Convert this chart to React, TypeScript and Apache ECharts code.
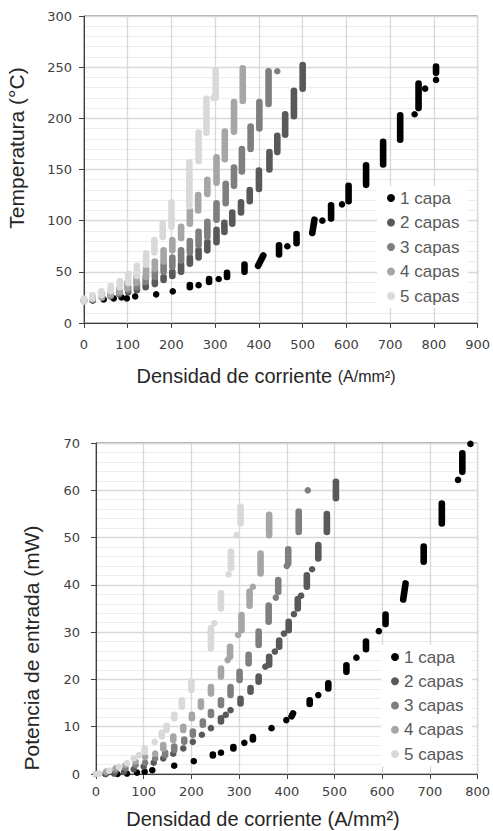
import React, { useEffect, useRef } from "react";
import * as echarts from "echarts";

// Series names and colours
const seriesNames = ["1 capa", "2 capas", "3 capas", "4 capas", "5 capas"];
const seriesColors = ["#000000", "#595959", "#7f7f7f", "#a6a6a6", "#d9d9d9"];

// Each cluster: [x, yLow, yHigh?, xAtHigh?]  (vertical streaks of measured points)
// ---- Top chart: Temperatura (°C) vs Densidad de corriente (A/mm²)
const temp1 = [
  [0, 22], [20, 22], [45, 23], [68, 24], [86, 25], [98, 24], [117, 26], [165, 28], [203, 31],
  [242, 35, 37], [262, 37], [286, 40, 43], [308, 43], [327, 45, 49], [367, 50, 57],
  [398, 56, 66, 410], [446, 67, 76], [465, 75], [486, 78, 87], [522, 88, 101, 527], [545, 100],
  [565, 102, 115], [590, 116], [605, 119, 134], [645, 135, 154], [684, 155, 177],
  [723, 179, 203], [756, 204], [765, 210, 234], [780, 229], [805, 237.5], [805, 244.5, 250.5],
];
const temp2 = [
  [0, 22], [20, 23], [41, 25], [61, 26], [81, 28], [101, 30], [121, 32, 33], [141, 35, 37],
  [162, 38, 41], [182, 42, 45], [202, 46, 50], [222, 50, 57], [242, 58, 64], [262, 64, 71],
  [282, 71, 79], [303, 79, 91], [321, 89, 98], [339, 97, 108], [359, 108, 118], [379, 119, 130],
  [400, 131, 149], [424, 150, 167], [442, 167, 183], [460, 184, 204], [480, 202, 227],
  [500, 229, 252],
];
const temp3 = [
  [0, 22], [20, 23], [41, 25], [61, 27, 28], [81, 29, 31], [101, 32, 35], [121, 35, 39],
  [141, 40, 45], [162, 45, 51], [182, 50, 57], [202, 55, 64], [222, 61, 71], [242, 69, 80],
  [262, 76, 89], [282, 84, 99], [303, 101, 117], [324, 117, 136], [343, 134, 152],
  [361, 148, 170], [381, 170, 192], [401, 190, 216], [422, 214, 246], [442, 246],
];
const temp4 = [
  [0, 21, 23], [20, 23, 25], [41, 25, 28], [61, 27, 30], [81, 30, 34], [99, 34, 39],
  [120, 39, 45], [142, 45, 53], [162, 53, 60], [182, 60, 71], [202, 71, 81], [222, 83, 94],
  [242, 97, 110], [261, 110, 125], [282, 126, 140], [303, 137, 162], [322, 160, 187],
  [343, 187, 216], [363, 217, 249],
];
const temp5 = [
  [0, 21, 24], [19, 24, 27], [40, 27, 31], [61, 31, 36], [82, 35, 41], [101, 39, 48],
  [121, 46, 56], [142, 57, 68], [161, 69, 81], [180, 84, 97], [200, 94, 118],
  [241, 114, 157], [262, 158, 186], [280, 186, 219], [296, 220], [301, 220, 247],
];

// ---- Bottom chart: Potencia de entrada (mW) vs Densidad de corriente (A/mm²)
const pow1 = [
  [0, 0], [20, 0], [45, 0], [65, 0.1], [86, 0.3], [102, 0.5], [118, 0.8], [164, 1.75],
  [205, 2.7], [245, 3.9, 4.1], [262, 4.5], [288, 5.4, 5.7], [311, 6.6], [329, 7.3, 7.8],
  [368, 9.7], [399, 11.4], [410, 12.2, 12.8, 413], [448, 14.8, 15.6], [466, 16.7],
  [487, 18.1, 19.2], [525, 21.6, 23], [546, 24.6], [566, 26.4, 28], [593, 30.2],
  [607, 31.7, 33.7], [644, 36.9, 40.3, 649], [687, 44.9, 48.1], [725, 53, 57.2], [759, 62.2],
  [768, 63.9, 67.8], [785, 69.8],
];
const pow2 = [
  [0, 0], [20, 0], [38, 0.1], [59, 0.5], [79, 1], [100, 1.6], [121, 2.4], [141, 3.3],
  [162, 4.3], [183, 5.4], [203, 6.8], [222, 8.3], [241, 9.7], [262, 11.1, 11.8], [272, 12.5],
  [282, 13.5], [303, 14.9, 15.9], [324, 17.4, 18.2], [341, 19.5, 20.6], [355, 22.7],
  [363, 23.1, 24.8], [375, 25.9], [384, 26.9, 28.2], [394, 29.7], [404, 30.4, 32.2],
  [415, 33.8], [423, 35, 37], [430, 37.7], [442, 39.6, 42], [453, 43.3], [466, 45.6, 48.4],
  [484, 51.2, 55], [503, 58.3, 61.8],
];
const pow3 = [
  [0, 0], [21, 0.3], [41, 0.7], [62, 1.2], [83, 1.9], [103, 2.4], [124, 3.3], [145, 4, 4.5],
  [164, 5.1, 5.8], [185, 6.8, 7.3], [203, 8.3, 9], [224, 10.4, 11.1], [241, 12.5, 13.1],
  [262, 14.6, 15.6], [282, 16.7, 18.4], [301, 19.9, 21.6], [320, 23.4, 25.2],
  [341, 27.3, 30.1], [362, 32.2, 35.6], [377, 37.3], [382, 38.5, 41], [400, 44],
  [403, 44.5, 47.5], [425, 51.2, 55.5], [444, 60],
];
const pow4 = [
  [0, 0], [21, 0.5], [41, 1.2], [62, 1.9], [83, 2.6], [103, 3.6], [124, 4.3], [141, 5.4, 6.1],
  [162, 7.2, 7.9], [183, 9.3, 10], [201, 11.8, 12.5], [220, 14.2, 15.3], [241, 17, 18.4],
  [262, 20.6, 22.3], [276, 24.1], [281, 24.8, 26.9], [298, 29.4], [305, 30.4, 33.6],
  [322, 35.6, 38.6], [329, 39.6], [345, 42.4, 46.6], [363, 50.5, 54.8],
];
const pow5 = [
  [0, 0], [7, 0.1], [28, 0.7], [48, 1.5], [65, 2.3], [79, 3.3], [90, 4], [102, 4.7, 5.4],
  [123, 6.8], [138, 8, 8.7], [148, 9.3, 10.2], [164, 11.8, 12.5], [180, 14.2, 15.6],
  [200, 17.8, 19.6], [241, 26.6, 30.8], [248, 31.9], [262, 35, 38.2], [278, 42.2],
  [283, 43.5, 47], [295, 50.5], [303, 53, 56.5],
];

// Axis settings (tick values)
const tempXMax = 900;
const tempYMax = 300;
const powXMax = 800;
const powYMax = 70;

const tempSeries = [temp1, temp2, temp3, temp4, temp5];
const powSeries = [pow1, pow2, pow3, pow4, pow5];

const TICK_FONT = "'DejaVu Sans', sans-serif";
const TEXT_FONT = "'Liberation Sans', Arial, sans-serif";

function normalize(c: number[]) {
  const x = c[0];
  const lo = c[1];
  const hi = c.length > 2 ? c[2] : c[1];
  const x2 = c.length > 3 ? c[3] : c[0];
  return [x, lo, hi, x2];
}

function makeRender(color: string) {
  return (_params: any, api: any) => {
    const p1 = api.coord([api.value(0), api.value(1)]);
    const p2 = api.coord([api.value(3), api.value(2)]);
    if (Math.abs(p1[0] - p2[0]) < 0.5 && Math.abs(p1[1] - p2[1]) < 0.5) {
      return { type: "circle", shape: { cx: p1[0], cy: p1[1], r: 3.3 }, style: { fill: color } };
    }
    return {
      type: "line",
      shape: { x1: p1[0], y1: p1[1], x2: p2[0], y2: p2[1] },
      style: { stroke: color, lineWidth: 6.6, lineCap: "round" },
    };
  };
}

function xAxisCfg(gridIndex: number, max: number, margin: number) {
  return {
    type: "value",
    gridIndex,
    min: 0,
    max,
    interval: 100,
    axisLine: { show: true, lineStyle: { color: "#404040", width: 1 } },
    axisTick: { show: true, length: 5, lineStyle: { color: "#404040" } },
    axisLabel: { margin, fontFamily: TICK_FONT, fontSize: 13, color: "#404040" },
    splitLine: { show: true, lineStyle: { color: "#d9d9d9", width: 1.3 } },
  };
}

function yAxisCfg(gridIndex: number, max: number, interval: number, margin: number) {
  return {
    type: "value",
    gridIndex,
    min: 0,
    max,
    interval,
    axisLine: { show: true, lineStyle: { color: "#404040", width: 1 } },
    axisTick: { show: true, length: 5, lineStyle: { color: "#404040" } },
    axisLabel: { margin, fontFamily: TICK_FONT, fontSize: 13, color: "#404040" },
    splitLine: { show: true, lineStyle: { color: "#d9d9d9", width: 1.3 } },
    minorTick: { show: false, splitNumber: 5 },
    minorSplitLine: { show: true, lineStyle: { color: "#ededed", width: 1 } },
  };
}

function legendCfg(left: number, top: number, itemGap: number) {
  return {
    orient: "vertical",
    left,
    top,
    padding: [3, 8, 3, 10],
    backgroundColor: "#ffffff",
    itemWidth: 8,
    itemHeight: 8,
    itemGap,
    icon: "circle",
    selectedMode: false,
    textStyle: { fontFamily: TEXT_FONT, fontSize: 17, color: "#595959", lineHeight: 18 },
    data: seriesNames,
  };
}

export default function App() {
  const ref = useRef<HTMLDivElement>(null);

  useEffect(() => {
    if (!ref.current) return;
    const chart = echarts.init(ref.current, undefined, { renderer: "svg" });

    const series: any[] = [];
    const addSeries = (sets: number[][][], gi: number) => {
      sets.forEach((set, i) => {
        series.push({
          type: "custom",
          name: seriesNames[i],
          xAxisIndex: gi,
          yAxisIndex: gi,
          dimensions: ["x", "yLow", "yHigh", "x2"],
          encode: { x: [0, 3], y: [1, 2] },
          itemStyle: { color: seriesColors[i] },
          renderItem: makeRender(seriesColors[i]),
          data: set.map(normalize),
          z: 2 + i,
        });
      });
    };
    addSeries(tempSeries, 0);
    addSeries(powSeries, 1);

    chart.setOption({
      animation: false,
      backgroundColor: "#ffffff",
      grid: [
        { left: 84, top: 16, width: 399, height: 307, show: true, borderColor: "#595959", borderWidth: 1, backgroundColor: "transparent" },
        { left: 96, top: 443, width: 387, height: 331, show: true, borderColor: "#595959", borderWidth: 1, backgroundColor: "transparent" },
      ],
      xAxis: [xAxisCfg(0, tempXMax, 15), xAxisCfg(1, powXMax, 11)],
      yAxis: [yAxisCfg(0, tempYMax, 50, 12), yAxisCfg(1, powYMax, 10, 16)],
      legend: [legendCfg(377, 186, 6.5), legendCfg(381, 645, 6.25)],
      graphic: [
        {
          type: "text",
          x: 16,
          y: 148,
          rotation: Math.PI / 2,
          style: {
            text: "Temperatura (°C)",
            font: `21px ${TEXT_FONT}`,
            fill: "#262626",
            textAlign: "center",
            textVerticalAlign: "middle",
          },
        },
        {
          type: "text",
          x: 266,
          y: 376,
          style: {
            text: "{a|Densidad de corriente }{b|(A/mm²)}",
            rich: {
              a: { fontFamily: TEXT_FONT, fontSize: 20, fill: "#262626" },
              b: { fontFamily: TEXT_FONT, fontSize: 16, fill: "#262626" },
            },
            textAlign: "center",
            textVerticalAlign: "middle",
          },
        },
        {
          type: "text",
          x: 31,
          y: 648,
          rotation: Math.PI / 2,
          style: {
            text: "Potencia de entrada (mW)",
            font: `21px ${TEXT_FONT}`,
            fill: "#262626",
            textAlign: "center",
            textVerticalAlign: "middle",
          },
        },
        {
          type: "text",
          x: 263,
          y: 819,
          style: {
            text: "Densidad de corriente (A/mm²)",
            font: `20px ${TEXT_FONT}`,
            fill: "#262626",
            textAlign: "center",
            textVerticalAlign: "middle",
          },
        },
      ],
      series,
    });

    return () => {
      chart.dispose();
    };
  }, []);

  return (
    <div
      ref={ref}
      style={{ position: "absolute", left: 0, top: 0, width: 493, height: 831, background: "#fff" }}
    />
  );
}
